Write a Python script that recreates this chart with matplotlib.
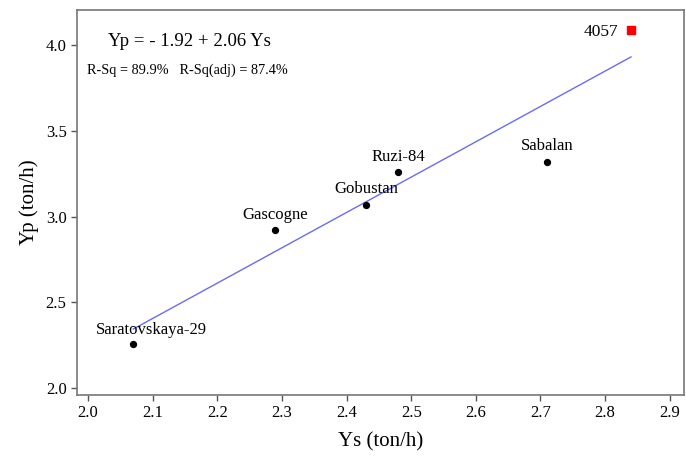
import matplotlib
matplotlib.use("Agg")
import matplotlib.pyplot as plt

# cultivar data: stress yield (Ys) vs potential yield (Yp)
names = ["Saratovskaya-29", "Gascogne", "Gobustan", "Ruzi-84", "Sabalan"]
ys = [2.07, 2.29, 2.43, 2.48, 2.71]
yp = [2.26, 2.92, 3.07, 3.26, 3.32]

# outlier cultivar
out_name = "4057"
out_ys = 2.84
out_yp = 4.09

# fitted line Yp = a + b*Ys
a, b = -1.92, 2.06
fit_x = [2.07, 2.84]

plt.rcParams["font.family"] = ["Liberation Serif", "DejaVu Serif"]

fig = plt.figure(figsize=(6.86, 4.57), dpi=100)
ax = fig.add_axes([77 / 686, 1 - 395 / 457, (684 - 77) / 686, (395 - 10) / 457])

ax.plot(fit_x, [a + b * x for x in fit_x], color="#6b6bf0", lw=1.0, zorder=1)
ax.scatter(ys, yp, s=18, color="black", zorder=3)
ax.scatter([out_ys], [out_yp], s=30, marker="s", color="red", zorder=3)

# label offsets in points (dx, dy)
offsets = {
    "Saratovskaya-29": (13, 10),
    "Gascogne": (0, 11),
    "Gobustan": (0, 11),
    "Ruzi-84": (0, 11),
    "Sabalan": (0, 11),
}
for n, x, y in zip(names, ys, yp):
    ax.annotate(n, (x, y), xytext=offsets[n], textcoords="offset points",
                fontsize=12, ha="center", va="center")
ax.annotate(out_name, (out_ys, out_yp), xytext=(-9, -2), textcoords="offset points",
            fontsize=12.5, ha="right", va="center")

ax.text(2.031, 4.02, "Yp = - 1.92 + 2.06 Ys", fontsize=13.5, ha="left", va="center")
ax.text(1.999, 3.855, "R-Sq = 89.9%   R-Sq(adj) = 87.4%", fontsize=10.3, ha="left", va="center")

ax.set_xlim(1.983, 2.922)
ax.set_ylim(1.96, 4.204)
ax.set_xticks([2.0, 2.1, 2.2, 2.3, 2.4, 2.5, 2.6, 2.7, 2.8, 2.9])
ax.set_yticks([2.0, 2.5, 3.0, 3.5, 4.0])
ax.tick_params(labelsize=12, color="#555555", length=4, width=1)
for s in ax.spines.values():
    s.set_color("#777777")
    s.set_linewidth(1.2)

ax.set_xlabel("Ys (ton/h)", fontsize=15, labelpad=8)
ax.set_ylabel("Yp (ton/h)", fontsize=15, labelpad=5)

fig.savefig("out.png", dpi=100)
